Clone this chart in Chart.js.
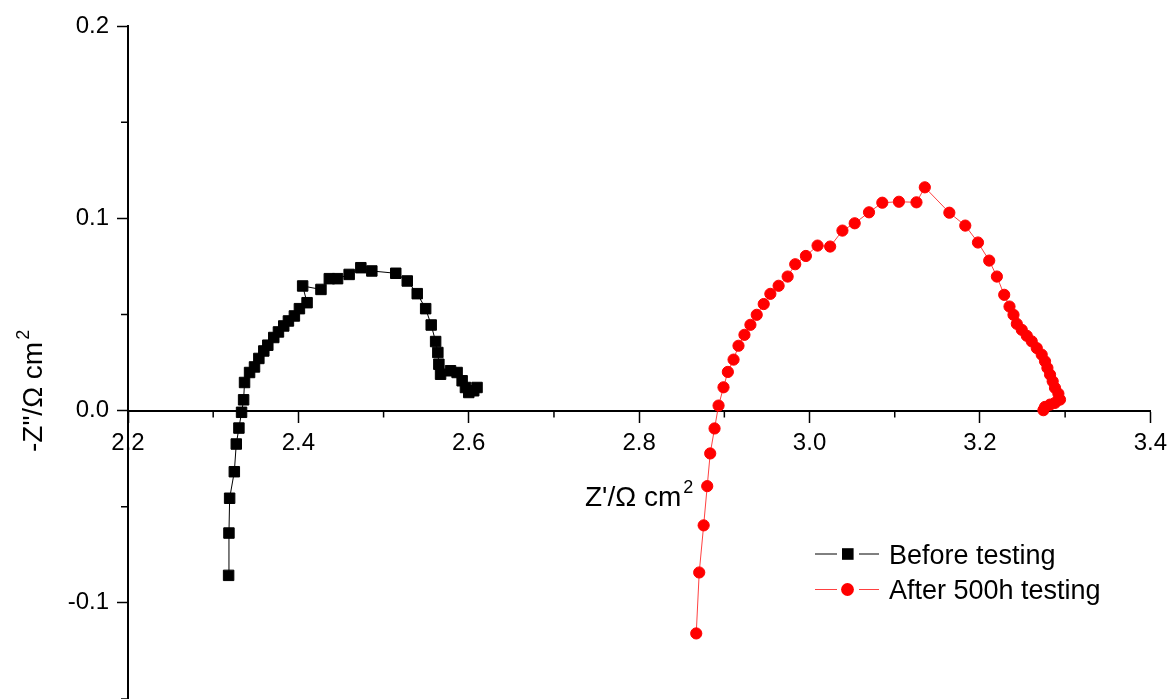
<!DOCTYPE html>
<html>
<head>
<meta charset="utf-8">
<script src="https://cdn.jsdelivr.net/npm/chart.js@4"></script>
<style>
  html, body { margin: 0; padding: 0; background: #fff; }
  #wrap { width: 1174px; height: 699px; }
</style>
</head>
<body>
<div id="wrap"><canvas id="chart" width="1174" height="699"></canvas></div>
<script>
// Z' (x) and -Z'' (y), ohm cm2
const beforeX = [2.3181, 2.3185, 2.3193, 2.3248, 2.3271, 2.3302, 2.3333, 2.3357, 2.3368, 2.3427,
  2.3485, 2.3536, 2.3594, 2.3641, 2.3711, 2.3766, 2.3828, 2.3883, 2.3953, 2.4012,
  2.4102, 2.405, 2.4265, 2.4363, 2.446, 2.4596, 2.4733, 2.4862, 2.5143, 2.5278,
  2.5395, 2.5494, 2.5559, 2.5611, 2.5637, 2.5649, 2.5669, 2.5786, 2.5863, 2.5922,
  2.5961, 2.6, 2.6058, 2.6097];
const beforeY = [-0.0857, -0.0637, -0.0456, -0.0318, -0.0174, -0.0091, -0.0009, 0.0056, 0.0146, 0.0198,
  0.0227, 0.0271, 0.031, 0.034, 0.038, 0.0409, 0.044, 0.0466, 0.0492, 0.053,
  0.0561, 0.0648, 0.063, 0.0686, 0.0686, 0.0708, 0.0743, 0.0726, 0.0714, 0.0674,
  0.0608, 0.053, 0.0445, 0.0359, 0.0302, 0.0241, 0.0189, 0.0207, 0.0198, 0.0155,
  0.012, 0.0094, 0.0103, 0.012];

const afterX = [2.867, 2.8705, 2.8757, 2.8799, 2.8834, 2.8885, 2.8932, 2.899, 2.9041, 2.9108,
  2.9166, 2.9236, 2.9306, 2.938, 2.9462, 2.954, 2.9637, 2.9743, 2.9832, 2.9957,
  3.0094, 3.0242, 3.0386, 3.053, 3.0698, 3.0854, 3.1049, 3.1255, 3.1353, 3.1641,
  3.1828, 3.1977, 3.2109, 3.2199, 3.2285, 3.2347, 3.2394, 3.2433, 3.2491, 3.255,
  3.2608, 3.2667, 3.2725, 3.2764, 3.2792, 3.2823, 3.2854, 3.2881, 3.2921, 3.294,
  3.2881, 3.2823, 3.2764, 3.2745];
const afterY = [-0.1159, -0.0842, -0.0597, -0.0393, -0.0223, -0.0093, 0.0026, 0.0121, 0.0201, 0.0265,
  0.0337, 0.0394, 0.0446, 0.0498, 0.0554, 0.0607, 0.0649, 0.0697, 0.0761, 0.0804,
  0.0858, 0.0853, 0.0936, 0.0974, 0.1031, 0.1081, 0.1086, 0.1083, 0.1161, 0.1029,
  0.0962, 0.0874, 0.078, 0.0697, 0.0602, 0.0541, 0.0498, 0.0451, 0.042, 0.0389,
  0.036, 0.0325, 0.0291, 0.0256, 0.0222, 0.0187, 0.0152, 0.0118, 0.0088, 0.0057,
  0.004, 0.0031, 0.0019, 0.0002];

const seriesNames = ['Before testing', 'After 500h testing'];
const xTitle = "Z'/\u03A9 cm";
const yTitle = '-Z"/\u03A9 cm';
const xMinorTicks = [2.3, 2.5, 2.7, 2.9, 3.1, 3.3];
const yMinorTicks = [-0.15, -0.05, 0.05, 0.15];

const FONT = '"Liberation Sans", Arial, sans-serif';
const toPoints = (xs, ys) => xs.map((x, i) => ({ x: x, y: ys[i] }));

// minor ticks, axis titles with superscript, and the legend
const extras = {
  id: 'extras',
  afterDraw(chart) {
    const ctx = chart.ctx;
    const xs = chart.scales.x, ys = chart.scales.y;
    const y0 = ys.getPixelForValue(0);
    const left = chart.chartArea.left;
    ctx.save();
    ctx.strokeStyle = '#000';
    ctx.lineWidth = 1.5;
    ctx.beginPath();
    xMinorTicks.forEach(v => {
      const p = xs.getPixelForValue(v);
      ctx.moveTo(p, y0); ctx.lineTo(p, y0 + 7);
    });
    yMinorTicks.forEach(v => {
      const p = ys.getPixelForValue(v);
      ctx.moveTo(left, p); ctx.lineTo(left - 7, p);
    });
    ctx.stroke();

    ctx.fillStyle = '#000';
    ctx.textAlign = 'left';
    ctx.textBaseline = 'alphabetic';
    const drawTitle = (text, x, y) => {
      ctx.font = '28px ' + FONT;
      ctx.fillText(text, x, y);
      const w = ctx.measureText(text).width;
      ctx.font = '18px ' + FONT;
      ctx.fillText('2', x + w + 2, y - 13);
    };
    drawTitle(xTitle, 585, 506);
    ctx.save();
    ctx.translate(42, 452);
    ctx.rotate(-Math.PI / 2);
    drawTitle(yTitle, 0, 0);
    ctx.restore();

    // legend
    chart.data.datasets.forEach((ds, i) => {
      const cy = 554 + i * 35.5;
      ctx.strokeStyle = ds.borderColor;
      ctx.lineWidth = 1;
      ctx.beginPath();
      ctx.moveTo(815, cy); ctx.lineTo(837, cy);
      ctx.moveTo(859, cy); ctx.lineTo(879, cy);
      ctx.stroke();
      ctx.fillStyle = ds.pointBackgroundColor;
      if (ds.pointStyle === 'rect') {
        ctx.fillRect(842, cy - 5.8, 11.6, 11.6);
      } else {
        ctx.beginPath();
        ctx.arc(847.5, cy, 6.4, 0, Math.PI * 2);
        ctx.fill();
      }
      ctx.fillStyle = '#000';
      ctx.font = '27px ' + FONT;
      ctx.fillText(ds.label, 889, cy + 9.5);
    });
    ctx.restore();
  }
};

new Chart(document.getElementById('chart'), {
  type: 'scatter',
  data: {
    datasets: [
      {
        label: seriesNames[0],
        data: toPoints(beforeX, beforeY),
        showLine: true,
        borderColor: '#000',
        borderWidth: 1,
        pointStyle: 'rect',
        pointRadius: 7.4,
        pointBorderWidth: 1,
        pointBorderColor: '#000',
        pointBackgroundColor: '#000'
      },
      {
        label: seriesNames[1],
        data: toPoints(afterX, afterY),
        showLine: true,
        borderColor: 'rgba(255,0,0,0.75)',
        borderWidth: 1,
        pointStyle: 'circle',
        pointRadius: 5.6,
        pointBorderWidth: 1,
        pointBorderColor: '#ff0000',
        pointBackgroundColor: '#ff0000'
      }
    ]
  },
  options: {
    responsive: false,
    animation: false,
    layout: { autoPadding: false, padding: { top: 26, right: 20, bottom: 0, left: 0 } },
    plugins: { legend: { display: false }, tooltip: { enabled: false } },
    scales: {
      x: {
        type: 'linear',
        position: { y: 0 },
        min: 2.2,
        max: 3.4,
        afterFit: s => { s.height = 0; s.paddingTop = 0; s.paddingBottom = 0; },
        border: { display: true, color: '#000', width: 2 },
        grid: { drawOnChartArea: false, drawTicks: true, tickLength: 11, tickColor: '#000', tickWidth: 1.5 },
        ticks: {
          stepSize: 0.2, color: '#000', padding: 7, maxRotation: 0, autoSkip: false,
          font: { family: FONT, size: 24 },
          callback: v => Number(v).toFixed(1)
        }
      },
      y: {
        type: 'linear',
        position: 'left',
        min: -0.15,
        max: 0.2,
        afterFit: s => { s.width = 128; s.paddingTop = 0; s.paddingBottom = 0; },
        border: { display: true, color: '#000', width: 2 },
        grid: { drawOnChartArea: false, drawTicks: true, tickLength: 11, tickColor: '#000', tickWidth: 1.5 },
        ticks: {
          stepSize: 0.1, includeBounds: false, color: '#000', padding: 8,
          font: { family: FONT, size: 24 },
          callback: v => Number(v).toFixed(1)
        }
      }
    }
  },
  plugins: [extras]
});
</script>
</body>
</html>
